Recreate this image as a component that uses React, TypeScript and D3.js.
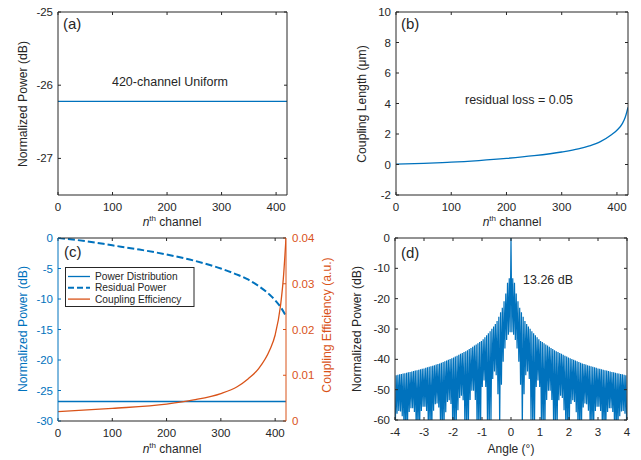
import React from 'react';
import * as d3 from 'd3';

const FONT = '"Liberation Sans", Arial, Helvetica, sans-serif';
const AX = '#262626';
const BLUE = '#0072BD';
const ORANGE = '#D95319';

// ---------- data ----------
const channelTicks = [0, 100, 200, 300, 400];

// (a)
const aTicksY = [-27, -26, -25];
const aChannels = [0, 420];
const aPower = [-26.22, -26.22];

// (b)
const bTicksY = [-2, 0, 2, 4, 6, 8, 10];
const bChannels = [0, 50, 100, 150, 200, 250, 300, 330, 350, 370, 390, 400, 410, 415, 420];
const bLength = [0.02, 0.08, 0.15, 0.26, 0.4, 0.58, 0.82, 1.02, 1.22, 1.5, 1.95, 2.25, 2.7, 3.1, 3.75];

// (c)
const cTicksYL = [-30, -25, -20, -15, -10, -5, 0];
const cTicksYR = [0, 0.01, 0.02, 0.03, 0.04];
const cDistChannels = [0, 420];
const cDistPower = [-26.8, -26.8];
const cResChannels = [0, 50, 100, 150, 200, 250, 300, 330, 350, 370, 390, 400, 410, 420];
const cResPower = [0, -0.5, -1.2, -1.9, -2.7, -3.7, -5.0, -6.0, -6.8, -7.9, -9.3, -10.2, -11.3, -12.8];
const cEffChannels = [0, 100, 200, 250, 300, 330, 350, 370, 390, 400, 410, 415, 420];
const cEff = [0.00204, 0.00276, 0.0037, 0.0046, 0.006, 0.0075, 0.0092, 0.0115, 0.0155, 0.0188, 0.0253, 0.031, 0.04];
const cLegend = ['Power Distribution', 'Residual Power', 'Coupling Efficiency'];

// (d)
const dTicksX = [-4, -3, -2, -1, 0, 1, 2, 3, 4];
const dTicksY = [-60, -50, -40, -30, -20, -10, 0];
const dEnvAngle = [0.06, 0.1, 0.17, 0.23, 0.3, 0.4, 0.5, 0.7, 1.0, 1.5, 2.0, 2.5, 3.0, 3.5, 4.0];
const dEnvDb = [-13.26, -13.5, -17.9, -20.5, -23, -25.5, -27.8, -30.5, -33.8, -37, -39.5, -41.5, -43, -44.2, -45.3];
const dArchCenter = [0, 0.56, 0.93, 1.32, 1.72, 2.14, 2.57, 3.0, 3.42, 3.85];
const dArchHalf = [0.36, 0.13, 0.11, 0.12, 0.12, 0.12, 0.12, 0.12, 0.12, 0.11];
const dArchTop = [-31, -44, -47, -50, -52, -53.5, -54.5, -55.5, -56, -57];
const dLobeStep = 0.03;

// ---------- helpers ----------
type Scale = d3.ScaleLinear<number, number>;

function Frame(props: {
  x: Scale; y: Scale; xTicks: number[]; yTicks: number[];
  yR?: Scale; yTicksR?: number[];
  leftColor?: string; rightColor?: string;
}) {
  const { x, y, xTicks, yTicks, yR, yTicksR } = props;
  const lc = props.leftColor || AX;
  const rc = props.rightColor || AX;
  const [x0, x1] = x.range();
  const [y0, y1] = y.range();
  const tl = 3;
  return (
    <g>
      {xTicks.map((t) => (
        <g key={'xt' + t}>
          <line x1={x(t)} x2={x(t)} y1={y0} y2={y0 - tl} stroke={AX} strokeWidth={1} />
          <line x1={x(t)} x2={x(t)} y1={y1} y2={y1 + tl} stroke={AX} strokeWidth={1} />
          <text x={x(t)} y={y0 + 15.5} textAnchor="middle" fontSize={11.5} fill={AX}>{t}</text>
        </g>
      ))}
      {yTicks.map((t) => (
        <g key={'yt' + t}>
          <line x1={x0} x2={x0 + tl} y1={y(t)} y2={y(t)} stroke={lc} strokeWidth={1} />
          {!yR && <line x1={x1} x2={x1 - tl} y1={y(t)} y2={y(t)} stroke={AX} strokeWidth={1} />}
          <text x={x0 - 5} y={y(t) + 4} textAnchor="end" fontSize={11.5} fill={lc}>{t}</text>
        </g>
      ))}
      {yR && yTicksR && yTicksR.map((t) => (
        <g key={'yr' + t}>
          <line x1={x1} x2={x1 - tl} y1={yR(t)} y2={yR(t)} stroke={rc} strokeWidth={1} />
          <text x={x1 + 6} y={yR(t) + 4} textAnchor="start" fontSize={11.5} fill={rc}>{t}</text>
        </g>
      ))}
      <line x1={x0} x2={x1} y1={y0} y2={y0} stroke={AX} strokeWidth={1} />
      <line x1={x0} x2={x1} y1={y1} y2={y1} stroke={AX} strokeWidth={1} />
      <line x1={x0} x2={x0} y1={y0} y2={y1} stroke={lc} strokeWidth={1} />
      <line x1={x1} x2={x1} y1={y0} y2={y1} stroke={rc} strokeWidth={1} />
    </g>
  );
}

function XLabelNth({ cx, y }: { cx: number; y: number }) {
  return (
    <text x={cx} y={y} textAnchor="middle" fontSize={12} fill={AX}>
      <tspan fontStyle="italic">n</tspan>
      <tspan dy={-5} fontSize={8}>th</tspan>
      <tspan dy={5}> channel</tspan>
    </text>
  );
}

function YLabel({ x, cy, text, color }: { x: number; cy: number; text: string; color?: string }) {
  return (
    <text transform={`translate(${x},${cy}) rotate(-90)`} textAnchor="middle" fontSize={12.2} fill={color || AX}>
      {text}
    </text>
  );
}

function zip(xs: number[], ys: number[]): [number, number][] {
  return xs.map((v, i) => [v, ys[i]] as [number, number]);
}

export default function App() {
  // (a)
  const ax = d3.scaleLinear([0, 420], [58, 287]);
  const ay = d3.scaleLinear([-27.5, -25], [195, 12]);
  const aLine = d3.line<[number, number]>().x((d) => ax(d[0])).y((d) => ay(d[1]));

  // (b)
  const bx = d3.scaleLinear([0, 420], [396, 628]);
  const by = d3.scaleLinear([-2, 10], [195, 12]);
  const bLine = d3.line<[number, number]>().x((d) => bx(d[0])).y((d) => by(d[1])).curve(d3.curveMonotoneX);

  // (c)
  const cx = d3.scaleLinear([0, 420], [58, 286]);
  const cyL = d3.scaleLinear([-30, 0], [421, 238]);
  const cyR = d3.scaleLinear([0, 0.04], [421, 238]);
  const cLineL = d3.line<[number, number]>().x((d) => cx(d[0])).y((d) => cyL(d[1])).curve(d3.curveMonotoneX);
  const cLineR = d3.line<[number, number]>().x((d) => cx(d[0])).y((d) => cyR(d[1])).curve(d3.curveMonotoneX);

  // (d)
  const dx = d3.scaleLinear([-4, 4], [395, 627]);
  const dy = d3.scaleLinear([-60, 0], [420, 238]);
  const env = d3.scaleLinear(dEnvAngle, dEnvDb).clamp(true);
  const nullAt = (a: number) => {
    const aa = Math.abs(a);
    for (let k = 0; k < dArchCenter.length; k++) {
      const dd = Math.abs(aa - dArchCenter[k]);
      if (dd < dArchHalf[k]) {
        return -60 + (dArchTop[k] + 60) * Math.sqrt(1 - (dd / dArchHalf[k]) ** 2);
      }
    }
    return -63;
  };
  const nSteps = Math.round(4 / dLobeStep);
  const dPts: [number, number][] = [];
  for (let i = -nSteps; i <= nSteps; i++) {
    const a = i * dLobeStep;
    if (i === 0) dPts.push([0, 0]);
    else if (Math.abs(i) % 2 === 1) dPts.push([a, Math.min(nullAt(a), env(Math.abs(a)) - 3)]);
    else dPts.push([a, env(Math.abs(a))]);
  }
  const dLine = d3.line<[number, number]>().x((d) => dx(d[0])).y((d) => dy(d[1]));

  const legendRows = [276.5, 287.8, 299.1];

  return (
    <svg width={641} height={460} style={{ position: 'absolute', left: 0, top: 0, background: '#fff' }}
      fontFamily={FONT}>
      <defs>
        <clipPath id="clipD"><rect x={395} y={238} width={232} height={182} /></clipPath>
        <clipPath id="clipC"><rect x={58} y={238} width={228} height={183} /></clipPath>
        <clipPath id="clipB"><rect x={396} y={12} width={232} height={183} /></clipPath>
      </defs>
      <rect x={0} y={0} width={641} height={460} fill="#fff" />

      {/* (a) */}
      <path d={aLine(zip(aChannels, aPower)) || ''} fill="none" stroke={BLUE} strokeWidth={1.3} />
      <Frame x={ax} y={ay} xTicks={channelTicks} yTicks={aTicksY} />
      <text x={63} y={29} fontSize={15} fill={AX}>(a)</text>
      <text x={170} y={86} textAnchor="middle" fontSize={12.5} fill={AX}>420-channel Uniform</text>
      <XLabelNth cx={172} y={226} />
      <YLabel x={27} cy={104} text="Normalized Power (dB)" />

      {/* (b) */}
      <path d={bLine(zip(bChannels, bLength)) || ''} fill="none" stroke={BLUE} strokeWidth={1.3} clipPath="url(#clipB)" />
      <Frame x={bx} y={by} xTicks={channelTicks} yTicks={bTicksY} />
      <text x={401} y={29} fontSize={15} fill={AX}>(b)</text>
      <text x={519} y={104} textAnchor="middle" fontSize={12.5} fill={AX}>residual loss = 0.05</text>
      <XLabelNth cx={512} y={226} />
      <YLabel x={366} cy={104} text="Coupling Length (μm)" />

      {/* (c) */}
      <g clipPath="url(#clipC)">
        <path d={cLineL(zip(cDistChannels, cDistPower)) || ''} fill="none" stroke={BLUE} strokeWidth={1.3} />
        <path d={cLineL(zip(cResChannels, cResPower)) || ''} fill="none" stroke={BLUE} strokeWidth={2} strokeDasharray="7,3" />
        <path d={cLineR(zip(cEffChannels, cEff)) || ''} fill="none" stroke={ORANGE} strokeWidth={1.3} />
      </g>
      <Frame x={cx} y={cyL} xTicks={channelTicks} yTicks={cTicksYL} yR={cyR} yTicksR={cTicksYR}
        leftColor={BLUE} rightColor={ORANGE} />
      <text x={64} y={257} fontSize={15} fill={AX}>(c)</text>
      <g>
        <rect x={65.5} y={267.5} width={128.5} height={39} fill="#fff" stroke={AX} strokeWidth={1} />
        {cLegend.map((name, i) => {
          const yy = legendRows[i];
          const col = i === 2 ? ORANGE : BLUE;
          return (
            <g key={name}>
              <line x1={68} x2={90} y1={yy} y2={yy} stroke={col} strokeWidth={i === 1 ? 2 : 1.3}
                strokeDasharray={i === 1 ? '6,3' : undefined} />
              <text x={95} y={yy + 3.6} fontSize={10.2} fill={AX}>{name}</text>
            </g>
          );
        })}
      </g>
      <XLabelNth cx={172} y={453} />
      <YLabel x={27} cy={329} text="Normalized Power (dB)" color={BLUE} />
      <YLabel x={331} cy={325} text="Coupling Efficiency (a.u.)" color={ORANGE} />

      {/* (d) */}
      <path d={dLine(dPts) || ''} fill="none" stroke={BLUE} strokeWidth={1.2} clipPath="url(#clipD)" />
      <Frame x={dx} y={dy} xTicks={dTicksX} yTicks={dTicksY} />
      <text x={401} y={258} fontSize={15} fill={AX}>(d)</text>
      <text x={523} y={284} fontSize={12.5} fill={AX}>13.26 dB</text>
      <text x={511} y={453} textAnchor="middle" fontSize={12} fill={AX}>Angle (°)</text>
      <YLabel x={361} cy={329} text="Normalized Power (dB)" />
    </svg>
  );
}
